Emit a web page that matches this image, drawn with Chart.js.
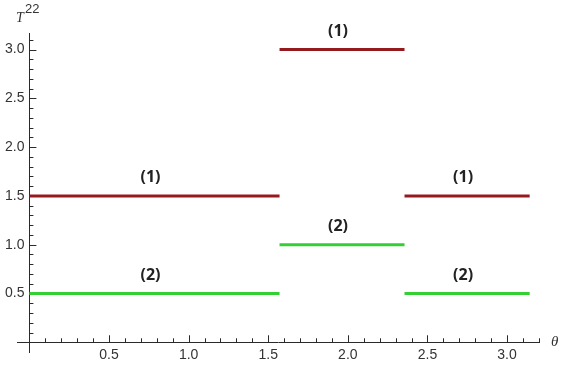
<!DOCTYPE html>
<html>
<head>
<meta charset="utf-8">
<script src="https://cdn.jsdelivr.net/npm/chart.js@4/dist/chart.umd.min.js"></script>
<style>
  html, body { margin: 0; padding: 0; background: #fff; }
  #wrap { width: 563px; height: 367px; }
</style>
</head>
<body>
<div id="wrap"><canvas id="T22Chart"></canvas></div>
<script>
// theta break points: 0, pi/2, 3pi/4, pi
const thetaBreaks = [0, 1.571, 2.356, 3.142];
const branch1 = [1.5, 3.0, 1.5];
const branch2 = [0.5, 1.0, 0.5];
const branchNames = ["(1)", "(2)"];
const xTicks = [0.5, 1.0, 1.5, 2.0, 2.5, 3.0];
const yTicks = [0.5, 1.0, 1.5, 2.0, 2.5, 3.0];

function segments(values) {
    const pts = [];
    for (let i = 0; i < values.length; i++) {
        pts.push({ x: thetaBreaks[i], y: values[i] });
        pts.push({ x: thetaBreaks[i + 1], y: values[i] });
        pts.push({ x: thetaBreaks[i + 1], y: null });
    }
    return pts;
}

const fmt = v => v.toFixed(1);

// axes drawn Mathematica style, crossing at the origin
const axesPlugin = {
    id: 'axes',
    beforeDatasetsDraw(chart) {
        const ctx = chart.ctx;
        const xs = chart.scales.x, ys = chart.scales.y;
        const x0 = xs.getPixelForValue(0), y0 = ys.getPixelForValue(0);
        const a = chart.chartArea;
        ctx.save();
        ctx.strokeStyle = '#2a2a2a';
        ctx.lineWidth = 1;
        ctx.beginPath();
        ctx.moveTo(a.left, Math.round(y0) + 0.5);
        ctx.lineTo(a.right, Math.round(y0) + 0.5);
        ctx.moveTo(Math.round(x0) + 0.5, a.bottom);
        ctx.lineTo(Math.round(x0) + 0.5, a.top);
        // x ticks
        for (let v = 0.1; v <= xs.max + 1e-9; v += 0.1) {
            const px = Math.round(xs.getPixelForValue(v)) + 0.5;
            const major = Math.abs(v * 2 - Math.round(v * 2)) < 1e-6;
            ctx.moveTo(px, y0);
            ctx.lineTo(px, y0 - (major ? 7 : 4));
        }
        // y ticks
        for (let v = 0.1; v <= ys.max + 1e-9; v += 0.1) {
            const py = Math.round(ys.getPixelForValue(v)) + 0.5;
            const major = Math.abs(v * 2 - Math.round(v * 2)) < 1e-6;
            ctx.moveTo(x0, py);
            ctx.lineTo(x0 + (major ? 7 : 4), py);
        }
        ctx.stroke();

        ctx.fillStyle = '#333';
        ctx.font = '14px "Liberation Sans", Arial, sans-serif';
        ctx.textAlign = 'center';
        ctx.textBaseline = 'middle';
        xTicks.forEach(v => ctx.fillText(fmt(v), xs.getPixelForValue(v), y0 + 13));
        ctx.textAlign = 'right';
        yTicks.forEach(v => ctx.fillText(fmt(v), x0 - 5, ys.getPixelForValue(v)));

        // axis titles
        ctx.font = 'italic 14px "Liberation Serif", serif';
        ctx.textAlign = 'left';
        ctx.fillText('T', 16, 18);
        ctx.font = '13px "Liberation Sans", Arial, sans-serif';
        ctx.fillText('22', 25, 9);
        ctx.font = 'italic 15px "Liberation Serif", serif';
        ctx.fillText('θ', 551, 342);
        ctx.restore();
    },
    afterDatasetsDraw(chart) {
        const ctx = chart.ctx;
        const xs = chart.scales.x, ys = chart.scales.y;
        ctx.save();
        ctx.fillStyle = '#222';
        ctx.font = 'bold 16px "Open Sans", sans-serif';
        ctx.textAlign = 'center';
        ctx.textBaseline = 'middle';
        [branch1, branch2].forEach((vals, k) => {
            vals.forEach((v, i) => {
                const mid = (thetaBreaks[i] + thetaBreaks[i + 1]) / 2;
                ctx.fillText(branchNames[k], xs.getPixelForValue(mid) - 4, ys.getPixelForValue(v) - 18);
            });
        });
        ctx.restore();
    }
};

new Chart(document.getElementById('T22Chart'), {
    type: 'scatter',
    data: {
        datasets: [
            {
                label: branchNames[0],
                data: segments(branch1),
                showLine: true,
                spanGaps: false,
                borderColor: '#951a1e',
                borderWidth: 3,
                pointRadius: 0
            },
            {
                label: branchNames[1],
                data: segments(branch2),
                showLine: true,
                spanGaps: false,
                borderColor: '#33cf33',
                borderWidth: 3,
                pointRadius: 0
            }
        ]
    },
    options: {
        responsive: true,
        maintainAspectRatio: false,
        animation: false,
        layout: { padding: { left: 17, right: 23, top: 33, bottom: 14 } },
        plugins: { legend: { display: false }, tooltip: { enabled: false } },
        scales: {
            x: { type: 'linear', min: -0.078, max: 3.207, display: false },
            y: { type: 'linear', min: -0.11, max: 3.17, display: false }
        }
    },
    plugins: [axesPlugin]
});
</script>
</body>
</html>
